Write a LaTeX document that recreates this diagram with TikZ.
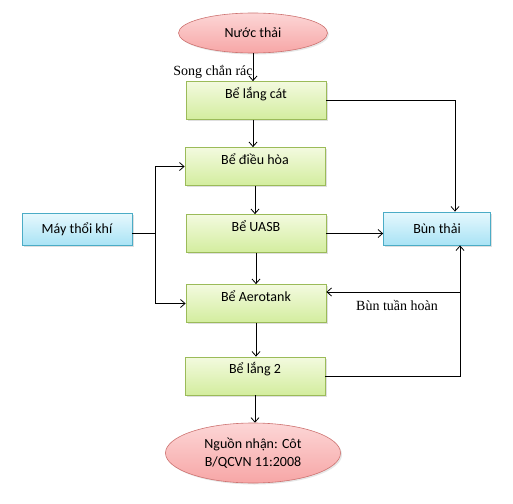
\documentclass[tikz,border=0pt]{standalone}
\usepackage{fontspec}
\setmainfont{Carlito}
\newfontfamily\labelfont{Liberation Serif}
\usetikzlibrary{shapes.geometric,shadows,arrows.meta}

\definecolor{tankborder}{HTML}{9BBB59}
\definecolor{tanktop}{HTML}{F3FADF}
\definecolor{tankbot}{HTML}{D3ED9E}
\definecolor{sideborder}{HTML}{4BACC6}
\definecolor{sidetop}{HTML}{E6F8FD}
\definecolor{sidebot}{HTML}{A9E3F5}
\definecolor{endborder}{HTML}{C0504D}
\definecolor{endtop}{HTML}{FCD6D6}
\definecolor{endbot}{HTML}{F7A6A6}

\begin{document}
\begin{tikzpicture}[x=1pt, y=-1pt,
        tankbox/.style = {rectangle, draw=tankborder, line width=0.8pt,
                          top color=tanktop, bottom color=tankbot,
                          minimum width=140pt, minimum height=38pt,
                          text height=10pt, text depth=15pt,
                          font=\fontsize{14}{17}\selectfont,
                          drop shadow={opacity=0.25, shadow xshift=1.5pt, shadow yshift=-1.5pt}},
        sidebox/.style = {rectangle, draw=sideborder, line width=0.8pt,
                          top color=sidetop, bottom color=sidebot,
                          minimum height=32pt,
                          font=\fontsize{14}{17}\selectfont,
                          drop shadow={opacity=0.25, shadow xshift=1.5pt, shadow yshift=-1.5pt}},
        endbox/.style  = {ellipse, draw=endborder!80, line width=0.6pt,
                          top color=endtop, bottom color=endbot, inner sep=0pt,
                          font=\fontsize{14}{18}\selectfont, align=center,
                          drop shadow={opacity=0.2, shadow xshift=1.5pt, shadow yshift=-1.5pt}},
        arr/.style     = {-{Straight Barb[length=4.5pt,width=8pt]}, line width=0.8pt},
        lbl/.style     = {font=\labelfont\fontsize{14}{17}\selectfont, inner sep=0pt}
    ]
        \useasboundingbox (0,0) rectangle (513,503);

        \node[endbox, minimum width=149pt, minimum height=40pt] (nuoc) at (253,33) {Nước thải};
        \node[tankbox] (lc)   at (256,100.5) {Bể lắng cát};
        \node[tankbox] (dh)   at (255,166.5) {Bể điều hòa};
        \node[tankbox] (uasb) at (256,233.5) {Bể UASB};
        \node[tankbox] (aero) at (256,303.5) {Bể Aerotank};
        \node[tankbox] (l2)   at (255,376)   {Bể lắng 2};
        \node[endbox, minimum width=175pt, minimum height=60pt] (nguon) at (253,453)
            {Nguồn nhận: Côt\\B/QCVN 11:2008};
        \node[sidebox, minimum width=110pt] (may) at (77,229.5) {Máy thổi khí};
        \node[sidebox, minimum width=107pt, minimum height=33pt] (bun) at (437,228.5) {Bùn thải};

        \node[lbl] (song) at (213,72) {Song chắn rác};
        \node[lbl] (tuan) at (397,305) {Bùn tuần hoàn};

        % main line
        \draw[arr] (nuoc.south) -- (nuoc.south |- lc.north);
        \draw[arr] (lc.south -| nuoc.south) -- (dh.north -| nuoc.south);
        \draw[arr] (dh.south) -- (dh.south |- uasb.north);
        \draw[arr] (uasb.south) -- (aero.north);
        \draw[arr] (aero.south) -- (aero.south |- l2.north);
        \draw[arr] (l2.south) -- (l2.south |- nguon.north);

        % air
        \draw[line width=0.8pt] (may.east) ++(0,3.5) -- ++(23,0) coordinate (air);
        \draw[arr] (air) |- (dh.west);
        \draw[arr] (air) |- (aero.west);

        % sludge
        \draw[arr] (lc.east) -| ([xshift=18pt]bun.north);
        \draw[arr] (uasb.east) -- (uasb.east -| bun.west);
        \draw[arr] (l2.east) -| ([xshift=23pt]bun.south);
        \coordinate (rec) at (460,292);
        \draw[arr] (rec) -- (rec -| aero.east);
    \end{tikzpicture}
\end{document}
